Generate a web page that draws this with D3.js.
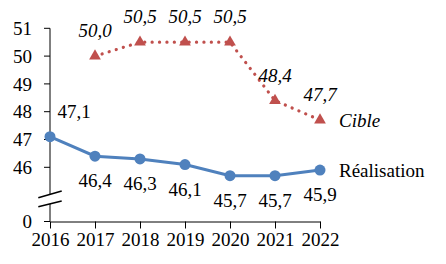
<!DOCTYPE html>
<html>
<head>
<meta charset="utf-8">
<script src="https://d3js.org/d3.v7.min.js"></script>
<style>
  body { margin: 0; background: white; }
  svg text { font-family: "Liberation Serif", serif; fill: #000; }
</style>
</head>
<body>
<svg id="chart" width="446" height="264"></svg>
<script>
// data
const years = [2016, 2017, 2018, 2019, 2020, 2021, 2022];
const realisation = [47.1, 46.4, 46.3, 46.1, 45.7, 45.7, 45.9];
const cibleYears = [2017, 2018, 2019, 2020, 2021, 2022];
const cible = [50.0, 50.5, 50.5, 50.5, 48.4, 47.7];
const yTicks = [46, 47, 48, 49, 50, 51];
const yBottomLabel = "0";

const svg = d3.select("#chart");
const fmt = v => v.toFixed(1).replace(".", ",");
const fs = "19px";

const x = d3.scalePoint().domain(years).range([50, 320]);
const y = d3.scaleLinear().domain([46, 51]).range([167.3, 28.3]);
const yZero = 221.5;

const blue = "#4F81BD", red = "#C0504D";

// x axis
const xAxis = svg.append("g")
  .attr("transform", `translate(0,${yZero})`)
  .call(d3.axisBottom(x).tickSize(7).tickPadding(5).tickSizeOuter(0));
xAxis.select(".domain").attr("stroke", "#000");
xAxis.selectAll("text").style("font-size", fs).attr("dy", "0.68em");

// y axis (broken)
const yAxis = svg.append("g").attr("transform", "translate(50,0)");
yAxis.append("line").attr("x1", 0).attr("x2", 0)
  .attr("y1", y(51)).attr("y2", yZero).attr("stroke", "#000");
const tickVals = yTicks.map(v => ({ label: String(v), py: y(v) }))
  .concat([{ label: yBottomLabel, py: yZero }]);
tickVals.forEach(t => {
  yAxis.append("line").attr("x1", -6).attr("x2", 0)
    .attr("y1", t.py).attr("y2", t.py).attr("stroke", "#000");
  yAxis.append("text").attr("x", -18).attr("y", t.py)
    .attr("text-anchor", "end").attr("dy", "0.35em")
    .style("font-size", fs).text(t.label);
});

// break marks
const brk = svg.append("g");
brk.append("path")
  .attr("d", "M38.3,197.7 L61.7,191 L61.7,201 L38.3,206.7 Z")
  .attr("fill", "white");
[[197.7, 191], [206.7, 201]].forEach(([a, b]) => {
  brk.append("line").attr("x1", 38.3).attr("y1", a)
    .attr("x2", 61.7).attr("y2", b)
    .attr("stroke", "#000").attr("stroke-width", 1.6);
});

// Réalisation
const realData = years.map((yr, i) => ({ yr, v: realisation[i] }));
svg.append("path").datum(realData)
  .attr("fill", "none").attr("stroke", blue).attr("stroke-width", 3)
  .attr("d", d3.line().x(d => x(d.yr)).y(d => y(d.v)));
svg.selectAll(".realPt").data(realData).join("circle")
  .attr("cx", d => x(d.yr)).attr("cy", d => y(d.v)).attr("r", 5.5)
  .attr("fill", blue);
svg.selectAll(".realLbl").data(realData).join("text")
  .attr("x", (d, i) => i === 0 ? x(d.yr) + 24 : x(d.yr))
  .attr("y", (d, i) => i === 0 ? y(d.v) - 19 : y(d.v) + 31)
  .attr("text-anchor", "middle")
  .style("font-size", fs)
  .text(d => fmt(d.v));

// Cible
const cibData = cibleYears.map((yr, i) => ({ yr, v: cible[i] }));
svg.append("path").datum(cibData)
  .attr("fill", "none").attr("stroke", red).attr("stroke-width", 3.2)
  .attr("stroke-linecap", "round").attr("stroke-dasharray", "0.1 7.3")
  .attr("d", d3.line().x(d => x(d.yr)).y(d => y(d.v)));
svg.selectAll(".cibPt").data(cibData).join("path")
  .attr("transform", d => `translate(${x(d.yr)},${y(d.v)})`)
  .attr("d", d3.symbol(d3.symbolTriangle, 60))
  .attr("fill", red);
svg.selectAll(".cibLbl").data(cibData).join("text")
  .attr("x", d => x(d.yr))
  .attr("y", d => y(d.v) - 19)
  .attr("text-anchor", "middle")
  .style("font-size", fs).style("font-style", "italic")
  .text(d => fmt(d.v));

// series labels
svg.append("text").attr("x", 339).attr("y", y(cible[5])).attr("dy", "0.35em")
  .style("font-size", fs).style("font-style", "italic").text("Cible");
svg.append("text").attr("x", 339).attr("y", y(realisation[6])).attr("dy", "0.35em")
  .style("font-size", fs).text("Réalisation");
</script>
</body>
</html>
